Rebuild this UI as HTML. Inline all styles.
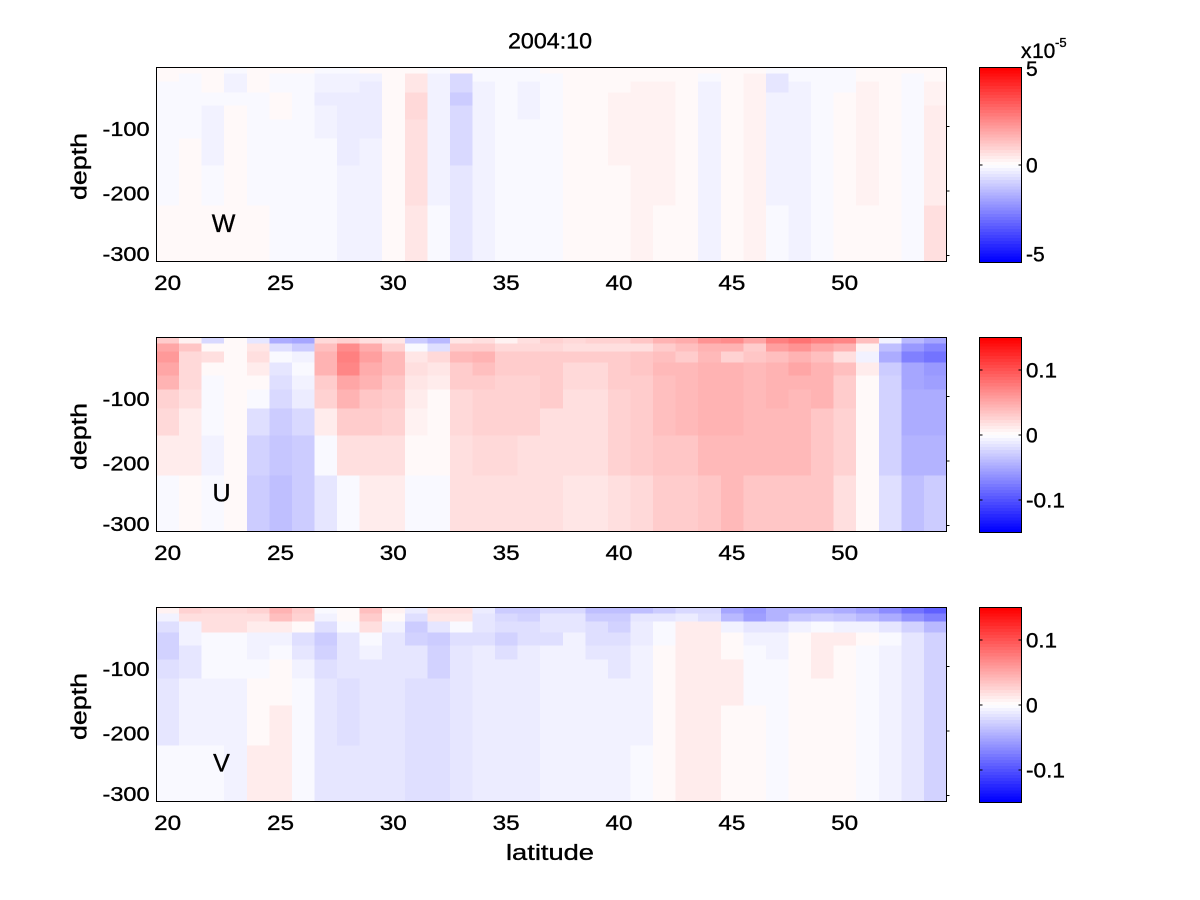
<!DOCTYPE html>
<html>
<head>
<meta charset="utf-8">
<style>
html,body{margin:0;padding:0;background:#fff;}
svg{display:block;}
text{font-family:"Liberation Sans",Arial,Helvetica,sans-serif;fill:#000;stroke:#000;stroke-width:0.35px;}
</style>
</head>
<body>
<svg id="s" width="1200" height="900" viewBox="0 0 1200 900" xmlns="http://www.w3.org/2000/svg">
<rect x="0" y="0" width="1200" height="900" fill="#fff"/>
<g id="cells" shape-rendering="crispEdges"></g>
<g id="cbars" shape-rendering="crispEdges"></g>

<!-- frames -->
<g fill="none" stroke="#000" stroke-width="1" shape-rendering="crispEdges">
  <rect x="156.5" y="67.5" width="790" height="194"/>
  <rect x="156.5" y="337.5" width="790" height="194"/>
  <rect x="156.5" y="607.5" width="790" height="194"/>
  <rect x="979.5" y="67.5" width="42" height="195"/>
  <rect x="979.5" y="337.5" width="42" height="195"/>
  <rect x="979.5" y="607.5" width="42" height="195"/>
  <path d="M946.5 126.5h3M946.5 191h3M946.5 255.5h3"/>
  <path d="M946.5 396.5h3M946.5 461h3M946.5 525.5h3"/>
  <path d="M946.5 666.5h3M946.5 731h3M946.5 795.5h3"/>
  <path d="M979.5 165h3M1018.5 165h3"/>
  <path d="M979.5 370h3M1018.5 370h3M979.5 435h3M1018.5 435h3M979.5 500h3M1018.5 500h3"/>
  <path d="M979.5 640h3M1018.5 640h3M979.5 705h3M1018.5 705h3M979.5 770h3M1018.5 770h3"/>
</g>

<text x="550" y="48.5" font-size="22" text-anchor="middle" textLength="84" lengthAdjust="spacingAndGlyphs">2004:10</text>

<!-- Panel 1 -->
<text x="149.5" y="136.2" font-size="20" text-anchor="end" textLength="47" lengthAdjust="spacingAndGlyphs">-100</text>
<text x="149.5" y="200.7" font-size="20" text-anchor="end" textLength="47" lengthAdjust="spacingAndGlyphs">-200</text>
<text x="149.5" y="261.2" font-size="20" text-anchor="end" textLength="47" lengthAdjust="spacingAndGlyphs">-300</text>
<text transform="translate(86.5,166.5) rotate(-90)" font-size="22" text-anchor="middle" textLength="67" lengthAdjust="spacingAndGlyphs">depth</text>
<text x="223.5" y="232" font-size="25" text-anchor="middle">W</text>
<g font-size="21" text-anchor="middle">
  <text x="167.6" y="290" textLength="27" lengthAdjust="spacingAndGlyphs">20</text>
  <text x="280.5" y="290" textLength="27" lengthAdjust="spacingAndGlyphs">25</text>
  <text x="393.3" y="290" textLength="27" lengthAdjust="spacingAndGlyphs">30</text>
  <text x="506.2" y="290" textLength="27" lengthAdjust="spacingAndGlyphs">35</text>
  <text x="619" y="290" textLength="27" lengthAdjust="spacingAndGlyphs">40</text>
  <text x="731.9" y="290" textLength="27" lengthAdjust="spacingAndGlyphs">45</text>
  <text x="844.7" y="290" textLength="27" lengthAdjust="spacingAndGlyphs">50</text>
</g>
<text x="1026" y="76" font-size="21">5</text>
<text x="1026" y="172.5" font-size="21">0</text>
<text x="1026" y="261.5" font-size="21">-5</text>
<text x="1021" y="58" font-size="21">x</text>
<text x="1032" y="58" font-size="21">10</text>
<text x="1055" y="47" font-size="13">-5</text>

<!-- Panel 2 -->
<text x="149.5" y="406.2" font-size="20" text-anchor="end" textLength="47" lengthAdjust="spacingAndGlyphs">-100</text>
<text x="149.5" y="470.7" font-size="20" text-anchor="end" textLength="47" lengthAdjust="spacingAndGlyphs">-200</text>
<text x="149.5" y="531.2" font-size="20" text-anchor="end" textLength="47" lengthAdjust="spacingAndGlyphs">-300</text>
<text transform="translate(86.5,436.5) rotate(-90)" font-size="22" text-anchor="middle" textLength="67" lengthAdjust="spacingAndGlyphs">depth</text>
<text x="221.5" y="501.5" font-size="25" text-anchor="middle">U</text>
<g font-size="21" text-anchor="middle">
  <text x="167.6" y="560" textLength="27" lengthAdjust="spacingAndGlyphs">20</text>
  <text x="280.5" y="560" textLength="27" lengthAdjust="spacingAndGlyphs">25</text>
  <text x="393.3" y="560" textLength="27" lengthAdjust="spacingAndGlyphs">30</text>
  <text x="506.2" y="560" textLength="27" lengthAdjust="spacingAndGlyphs">35</text>
  <text x="619" y="560" textLength="27" lengthAdjust="spacingAndGlyphs">40</text>
  <text x="731.9" y="560" textLength="27" lengthAdjust="spacingAndGlyphs">45</text>
  <text x="844.7" y="560" textLength="27" lengthAdjust="spacingAndGlyphs">50</text>
</g>
<text x="1026" y="377.5" font-size="21" textLength="31" lengthAdjust="spacingAndGlyphs">0.1</text>
<text x="1026" y="442.5" font-size="21">0</text>
<text x="1026" y="507.5" font-size="21" textLength="39" lengthAdjust="spacingAndGlyphs">-0.1</text>

<!-- Panel 3 -->
<text x="149.5" y="676.2" font-size="20" text-anchor="end" textLength="47" lengthAdjust="spacingAndGlyphs">-100</text>
<text x="149.5" y="740.7" font-size="20" text-anchor="end" textLength="47" lengthAdjust="spacingAndGlyphs">-200</text>
<text x="149.5" y="801.2" font-size="20" text-anchor="end" textLength="47" lengthAdjust="spacingAndGlyphs">-300</text>
<text transform="translate(86.5,706.5) rotate(-90)" font-size="22" text-anchor="middle" textLength="67" lengthAdjust="spacingAndGlyphs">depth</text>
<text x="221.5" y="771.5" font-size="25" text-anchor="middle">V</text>
<g font-size="21" text-anchor="middle">
  <text x="167.6" y="830" textLength="27" lengthAdjust="spacingAndGlyphs">20</text>
  <text x="280.5" y="830" textLength="27" lengthAdjust="spacingAndGlyphs">25</text>
  <text x="393.3" y="830" textLength="27" lengthAdjust="spacingAndGlyphs">30</text>
  <text x="506.2" y="830" textLength="27" lengthAdjust="spacingAndGlyphs">35</text>
  <text x="619" y="830" textLength="27" lengthAdjust="spacingAndGlyphs">40</text>
  <text x="731.9" y="830" textLength="27" lengthAdjust="spacingAndGlyphs">45</text>
  <text x="844.7" y="830" textLength="27" lengthAdjust="spacingAndGlyphs">50</text>
</g>
<text x="1026" y="647.5" font-size="21" textLength="31" lengthAdjust="spacingAndGlyphs">0.1</text>
<text x="1026" y="712.5" font-size="21">0</text>
<text x="1026" y="777.5" font-size="21" textLength="39" lengthAdjust="spacingAndGlyphs">-0.1</text>

<text x="550" y="860" font-size="22" text-anchor="middle" textLength="88" lengthAdjust="spacingAndGlyphs">latitude</text>
</svg>
<script>
(function(){
var NS="http://www.w3.org/2000/svg";
var rows=[0,6,14,25,38,52,71,98,138,194];
var tops=[67.5,337.5,607.5];
var X0=156.5, DX=790/35;
var L="ABCDEFGHIJKLMNOPQRSTUVWXYZ";
function col(ch){
  var up=(ch===ch.toUpperCase());
  var n=L.indexOf(ch.toUpperCase())+1;
  var v=Math.round(255*(1-n*0.025));
  return up?("rgb(255,"+v+","+v+")"):("rgb("+v+","+v+",255)");
}
var W=["AAaaaaaaA","AaaaaaAAA","AAAabbbaA","abbaAAAAA","AAAaaaaaA","AaaAAaaaa","Aaaaaaaaa","abbcbbaaa","abbccccbb","Abccccbbb",
"AAAAAAAAA","ADDFFEEED","abbbbbbba","Affhfffdd","aabbbbbbb","aaaaaaaaa","aabbbaaaa","Aaaaaaaaa","AAAAAAAAA","AAAAAAAAA",
"AAABBBBAA","AABBBBBBB","AABBBBBBA","AAAAAAAAA","Aabbbbbbb","AAAAAAAAA","ABBBBBBBB","addbbbbba","aabbbbbbb","aaaaaaaaa",
"aaaAAAAAA","AABBBBBBA","AAAAAAAAA","Aaaaaaaaa","AABBCCCCE"];
var U=["HNPNLGFCa","BIFFFECCA","fAEAaaaba","AAAAAAAAA","dDECAaegh","meadefhij","nhbabcfhh","FJLLHGCad","GRTSNLHEa","EMOMLIHEC",
"DGKKIHGEC","haDEDCBAa","keFDCAAAa","DHKHHFFEE","EHLJHGGFE","BFHHGGGFE","EFHHGGGEE","GFHHHHEEE","FEHFFEEED","GEHFFEEED",
"GEHHHGGGE","IEIIHHHHF","LHJKJJJIH","MJHKKKKIH","QLKLLLLKI","RLGLLLLKK","NHIKKKKKI","TOJLLLKKI","VQLNLKKKI","TNJLLLIII",
"SLEJHHGGE","JBbCAAAAA","bjmhgggge","kptnnmmlj","nsvpommlh"];
var V=["Bbeggedda","GEbbddbba","FEEaaabba","FEEaaabbb","GECbbaAAC","LJCbaAACC","HGAedbaaa","abehgeddd","AAadddeed","JHEabdddd",
"BAbdddddd","cehgddeee","EDdhggeee","EDaeddddd","cddeccccc","hfegecccc","hgeeccccc","fddebbbbb","fddbbbbbb","jheedbbbb",
"jhgeddbbb","jdccbbbba","hdaaAAAAA","fcCCCCCCC","feCCCCCCC","nkbAACCAA","podbaaaAA","lldbbaaaa","libAAAAAA","lhaCCCAAA",
"mibCAAAAA","okbAaaaaa","rmdabbbbb","vqgdddddd","ytkgggggg"];
var data=[W,U,V];
var g=document.getElementById("cells");
for(var p=0;p<3;p++){
  var T=tops[p];
  for(var i=0;i<35;i++){
    var s=data[p][i];
    var x=X0+DX*i;
    var w=(i==34)?(946.5-x):(DX+0.6);
    for(var r=0;r<9;r++){
      var y=T+rows[r];
      var h=rows[r+1]-rows[r]+(r<8?0.6:0);
      var e=document.createElementNS(NS,"rect");
      e.setAttribute("x",x.toFixed(2));
      e.setAttribute("y",y);
      e.setAttribute("width",w.toFixed(2));
      e.setAttribute("height",h);
      e.setAttribute("fill",col(s[r]));
      g.appendChild(e);
    }
  }
}
var cb=document.getElementById("cbars");
for(var p=0;p<3;p++){
  var T=tops[p], H=195, n=64, sh=H/n;
  for(var i=0;i<n;i++){
    var v=1-2*i/(n-1);
    var c;
    if(v>=0){var k=Math.round(255*(1-v));c="rgb(255,"+k+","+k+")";}
    else{var k=Math.round(255*(1+v));c="rgb("+k+","+k+",255)";}
    var e=document.createElementNS(NS,"rect");
    e.setAttribute("x",979.5);
    e.setAttribute("y",(T+i*sh).toFixed(2));
    e.setAttribute("width",42);
    e.setAttribute("height",(sh+0.5).toFixed(2));
    e.setAttribute("fill",c);
    cb.appendChild(e);
  }
}
})();
</script>
</body>
</html>
